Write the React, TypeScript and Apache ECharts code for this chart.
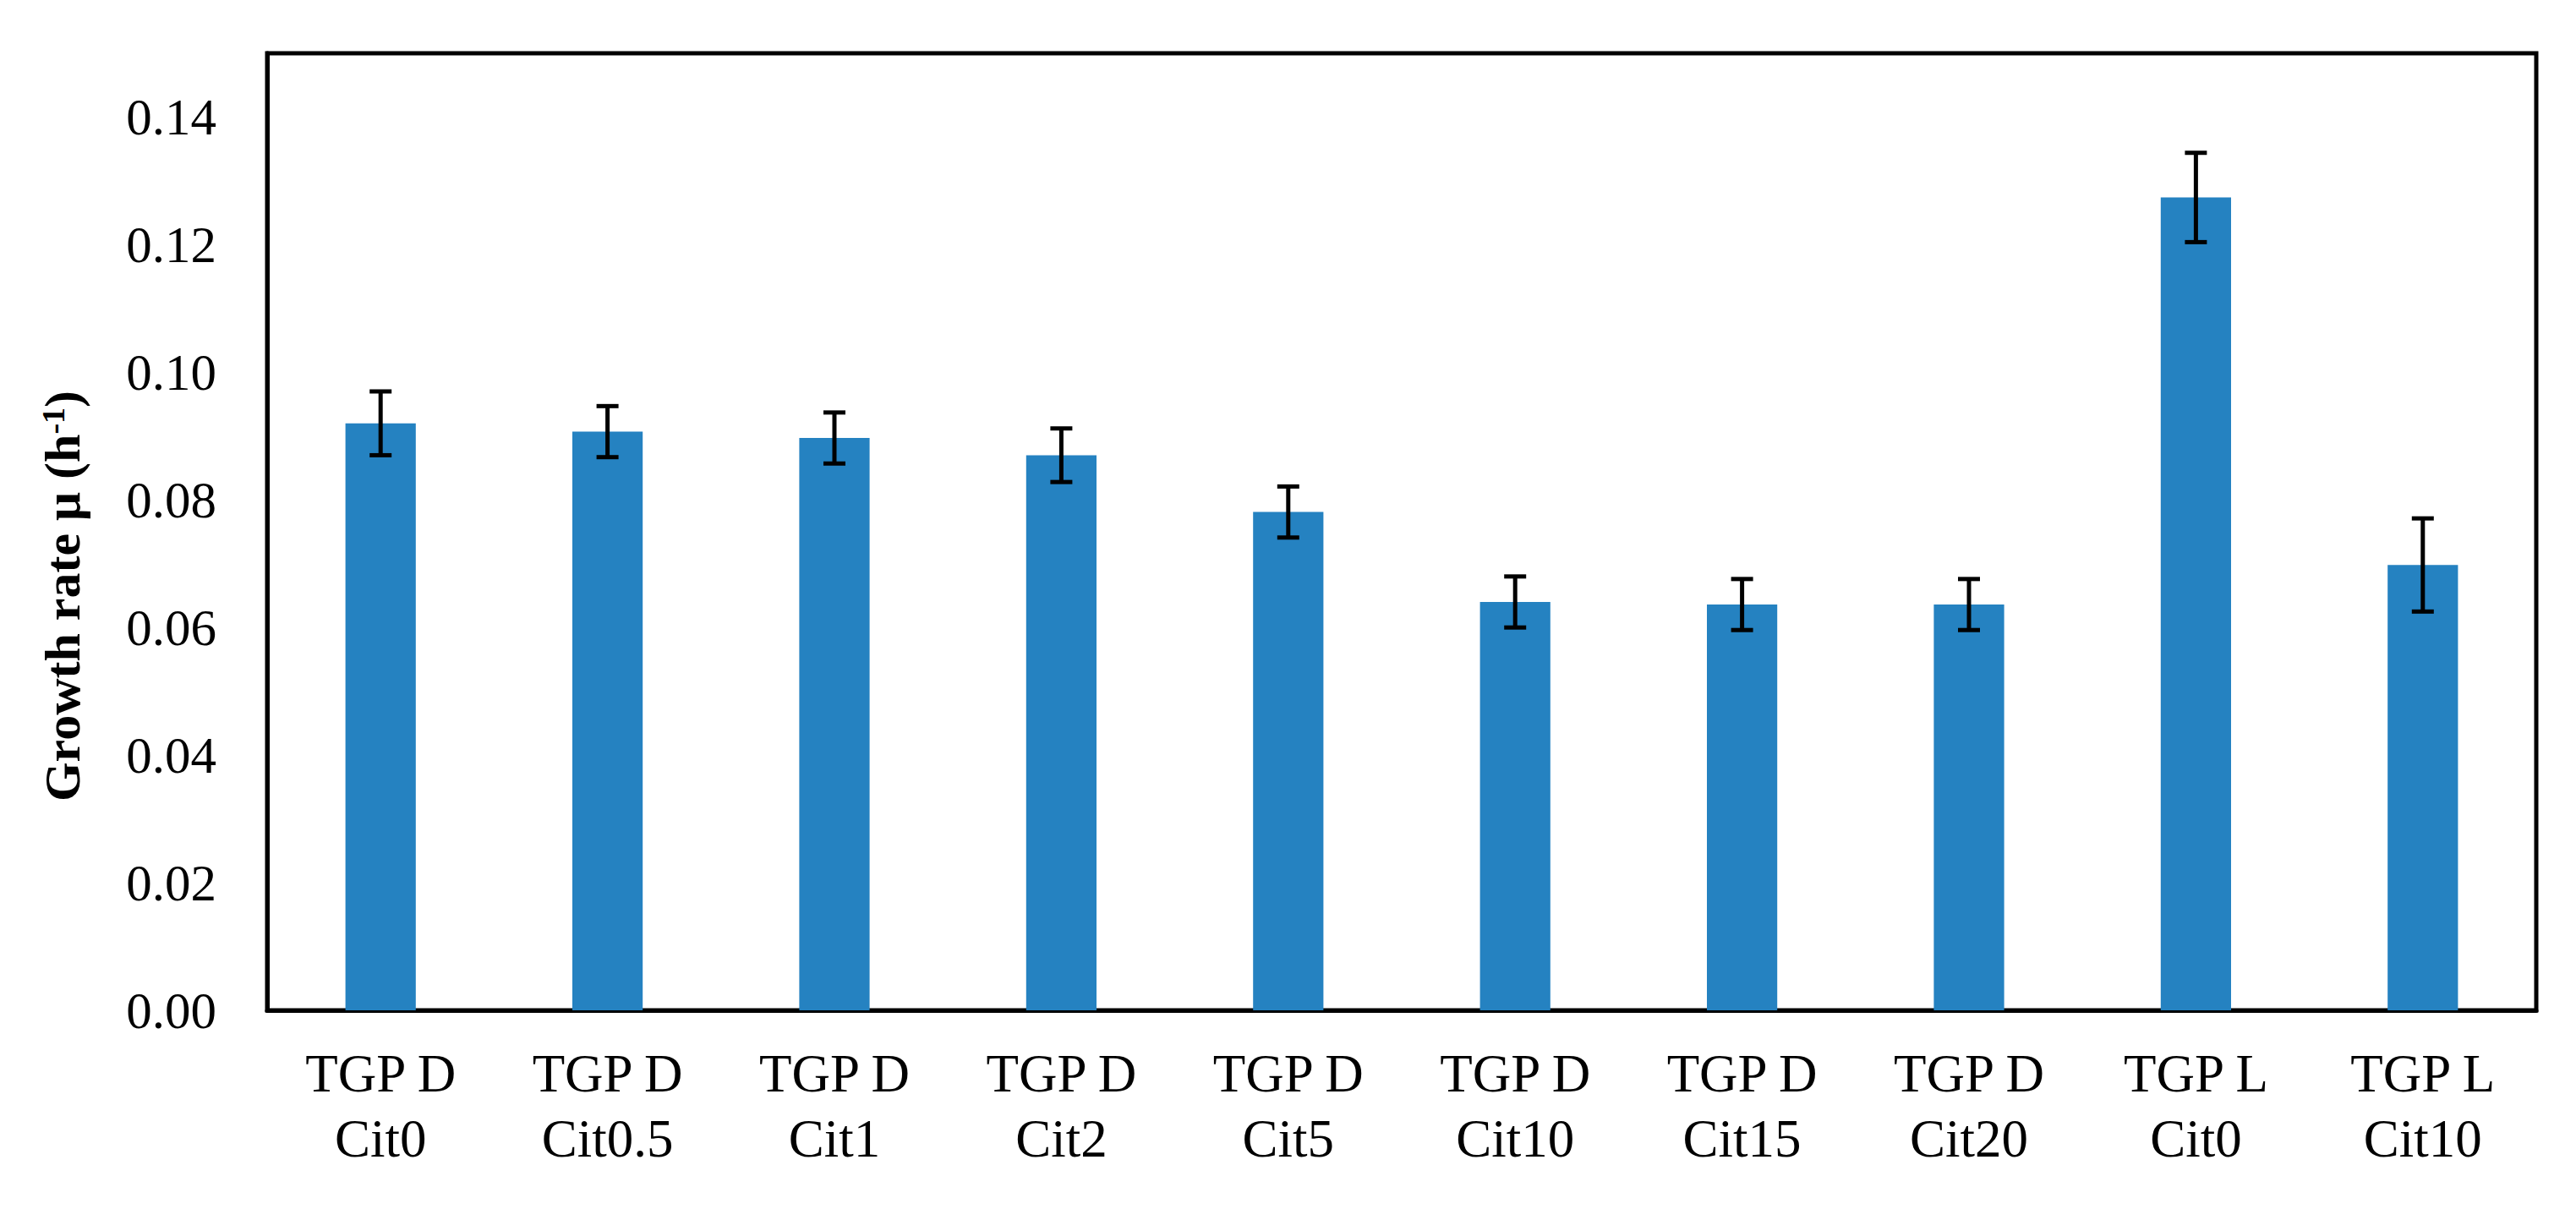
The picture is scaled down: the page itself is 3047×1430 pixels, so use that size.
import React, { useEffect, useRef } from "react";
import * as echarts from "echarts";

const categories = [
  "TGP D\nCit0",
  "TGP D\nCit0.5",
  "TGP D\nCit1",
  "TGP D\nCit2",
  "TGP D\nCit5",
  "TGP D\nCit10",
  "TGP D\nCit15",
  "TGP D\nCit20",
  "TGP L\nCit0",
  "TGP L\nCit10",
];
const growthRate = [0.0920, 0.0907, 0.0897, 0.0870, 0.0781, 0.0640, 0.0636, 0.0636, 0.1274, 0.0698];
const errors = [0.0050, 0.0040, 0.0040, 0.0042, 0.0040, 0.0040, 0.0040, 0.0040, 0.0070, 0.0073];
const yTicks = { min: 0, max: 0.15, interval: 0.02 };

const FONT = '"Liberation Serif", "Times New Roman", serif';

export default function App() {
  const ref = useRef<HTMLDivElement>(null);
  useEffect(() => {
    document.body.style.margin = "0";
    const chart = echarts.init(ref.current!, null, { renderer: "svg" });
    const errData = categories.map((_, i) => [i, growthRate[i] + errors[i], growthRate[i] - errors[i]]);
    chart.setOption({
      animation: false,
      backgroundColor: "#ffffff",
      grid: {
        left: 316,
        right: 47,
        top: 63,
        bottom: 235,
        show: true,
        borderColor: "#000000",
        borderWidth: 5,
        backgroundColor: "transparent",
      },
      xAxis: {
        type: "category",
        data: categories,
        axisLine: { show: true, lineStyle: { color: "#000", width: 5 } },
        axisTick: { show: false },
        axisLabel: {
          color: "#000",
          fontFamily: FONT,
          fontSize: 63,
          lineHeight: 77,
          margin: 36,
          interval: 0,
        },
      },
      yAxis: {
        type: "value",
        min: yTicks.min,
        max: yTicks.max,
        interval: yTicks.interval,
        splitLine: { show: false },
        axisLine: { show: true, lineStyle: { color: "#000", width: 5 } },
        axisTick: { show: false },
        axisLabel: {
          color: "#000",
          fontFamily: FONT,
          fontSize: 61,
          margin: 60,
          showMaxLabel: false,
          formatter: (v: number) => v.toFixed(2),
        },
      },
      graphic: [
        {
          type: "text",
          x: 74,
          y: 705,
          rotation: Math.PI / 2,
          style: {
            text: "Growth rate μ (h{sup|-1})",
            fontFamily: FONT,
            fontSize: 60,
            fontWeight: "bold",
            fill: "#000",
            align: "center",
            verticalAlign: "middle",
            rich: {
              sup: {
                fontFamily: FONT,
                fontSize: 38,
                fontWeight: "bold",
                fill: "#000",
                verticalAlign: "top",
                lineHeight: 42,
              },
            },
          },
        },
      ],
      series: [
        {
          type: "bar",
          data: growthRate,
          barWidth: "31%",
          itemStyle: { color: "#2582C1" },
        },
        {
          type: "custom",
          data: errData,
          encode: { x: 0, y: [1, 2] },
          z: 10,
          renderItem: (params: any, api: any) => {
            const x = api.value(0);
            const top = api.coord([x, api.value(1)]);
            const bot = api.coord([x, api.value(2)]);
            const hw = 13;
            const st = { stroke: "#000", lineWidth: 5 };
            return {
              type: "group",
              children: [
                { type: "line", shape: { x1: top[0], y1: top[1], x2: bot[0], y2: bot[1] }, style: st },
                { type: "line", shape: { x1: top[0] - hw, y1: top[1], x2: top[0] + hw, y2: top[1] }, style: st },
                { type: "line", shape: { x1: bot[0] - hw, y1: bot[1], x2: bot[0] + hw, y2: bot[1] }, style: st },
              ],
            };
          },
        },
      ],
    });
    return () => chart.dispose();
  }, []);
  return (
    <div
      ref={ref}
      style={{ position: "fixed", left: 0, top: 0, width: 3047, height: 1430, background: "#fff" }}
    />
  );
}
